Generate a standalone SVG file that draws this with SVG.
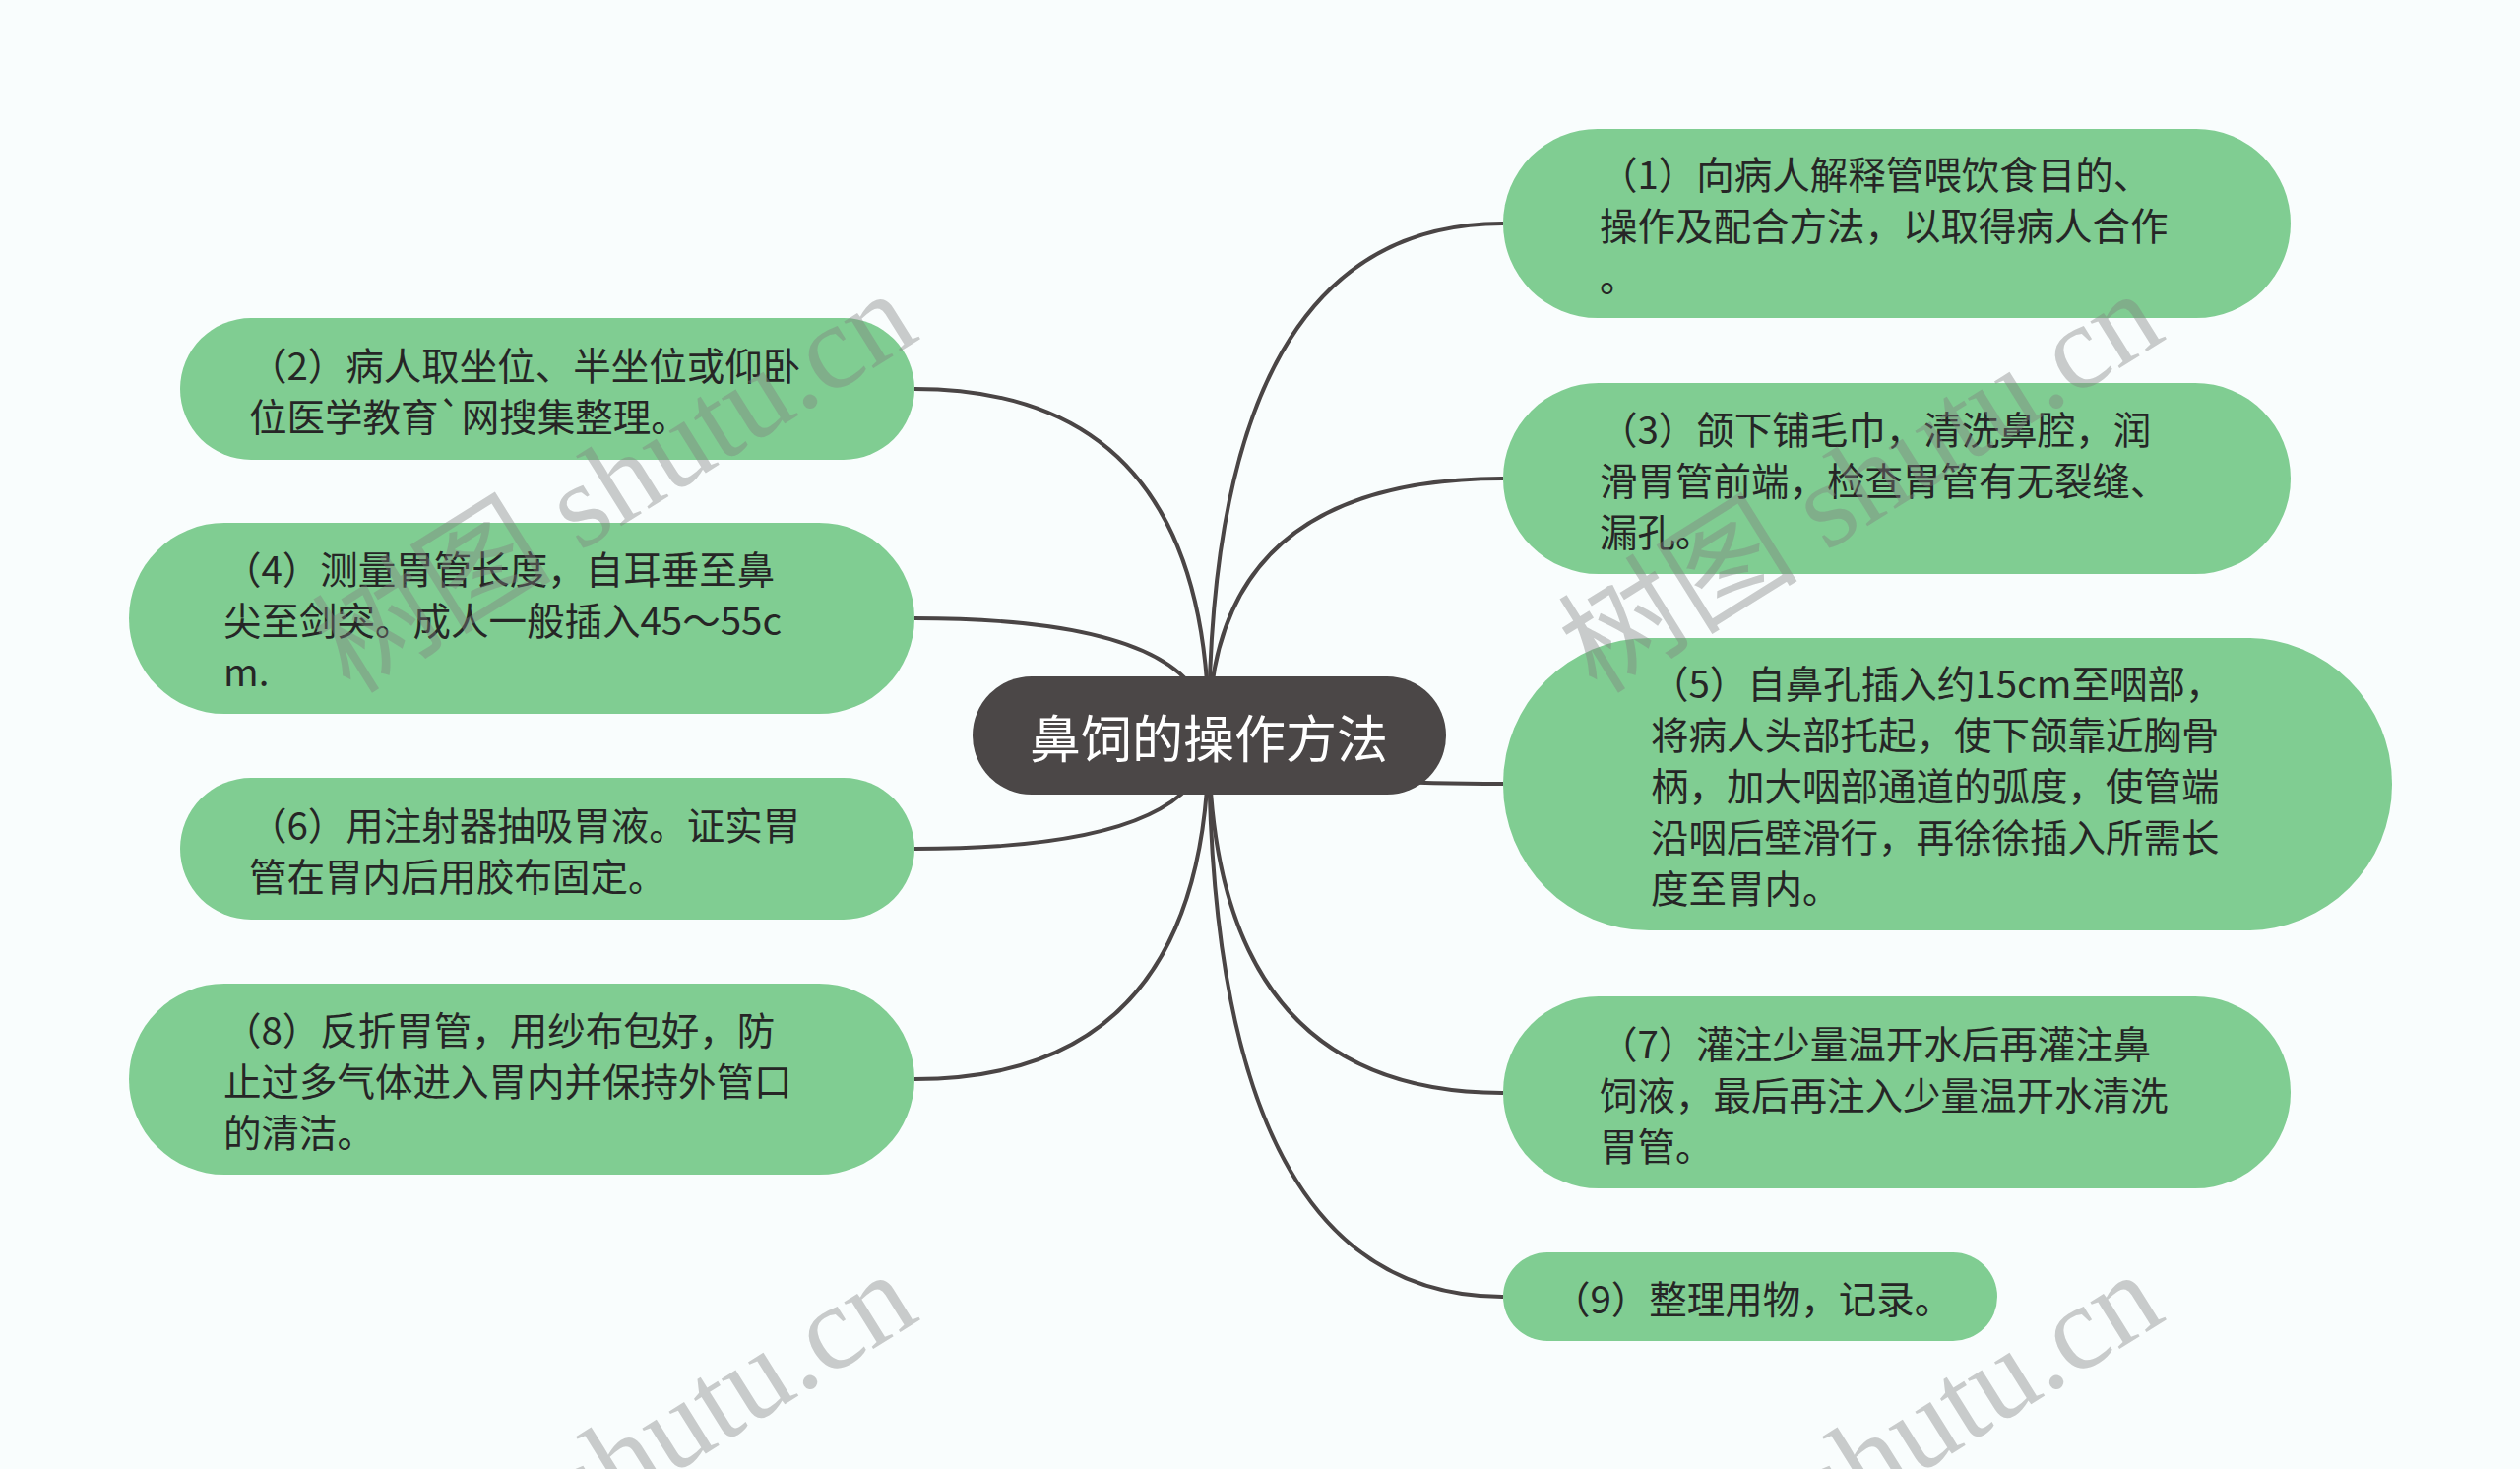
<svg xmlns="http://www.w3.org/2000/svg" width="2560" height="1492" viewBox="0 0 2560 1492">
<style>
.bg{fill:#f9fdfd}
.leaf{fill:#80cd92}
.lt{font-family:"Noto Sans CJK SC","Noto Sans",sans-serif;font-size:38.5px;fill:#262626;dominant-baseline:central}
.root{fill:#4b4747}
.rt{font-family:"Noto Sans CJK SC","Noto Sans",sans-serif;font-size:52px;fill:#ffffff;dominant-baseline:central;text-anchor:middle}
.conn path{fill:none;stroke:#4a4545;stroke-width:4}
.wm{font-family:"Liberation Serif","Noto Sans CJK SC",serif;font-size:122px;fill:#808080;fill-opacity:0.4}
</style>
<rect class="bg" x="0" y="0" width="2560" height="1492"/>
<g id="connectors" class="conn">
<path d="M1228 747 Q1228 227 1527 227"/>
<path d="M1228 747 Q1228 486 1527 486"/>
<path d="M1228 747 Q1228 796 1527 796"/>
<path d="M1228 747 Q1228 1110 1527 1110"/>
<path d="M1228 747 Q1228 1317 1527 1317"/>
<path d="M1228 747 Q1228 395 929 395"/>
<path d="M1228 747 Q1228 628 929 628"/>
<path d="M1228 747 Q1228 862 929 862"/>
<path d="M1228 747 Q1228 1096 929 1096"/>
</g>
<g id="root">
<rect class="root" x="988" y="687" width="481" height="120" rx="60"/>
<text class="rt" x="1228" y="747">鼻饲的操作方法</text>
</g>
<g id="n1">
<rect class="leaf" x="1527" y="131" width="800" height="192" rx="96"/>
<text class="lt" x="1625" y="175">（1）向病人解释管喂饮食目的、</text>
<text class="lt" x="1625" y="227">操作及配合方法，以取得病人合作</text>
<text class="lt" x="1625" y="279">。</text>
</g>
<g id="n3">
<rect class="leaf" x="1527" y="389" width="800" height="194" rx="97"/>
<text class="lt" x="1625" y="434">（3）颌下铺毛巾，清洗鼻腔，润</text>
<text class="lt" x="1625" y="486">滑胃管前端，检查胃管有无裂缝、</text>
<text class="lt" x="1625" y="538">漏孔。</text>
</g>
<g id="n5">
<rect class="leaf" x="1527" y="648" width="903" height="297" rx="148"/>
<text class="lt" x="1677" y="692">（5）自鼻孔插入约15cm至咽部，</text>
<text class="lt" x="1677" y="744">将病人头部托起，使下颌靠近胸骨</text>
<text class="lt" x="1677" y="796">柄，加大咽部通道的弧度，使管端</text>
<text class="lt" x="1677" y="848">沿咽后壁滑行，再徐徐插入所需长</text>
<text class="lt" x="1677" y="900">度至胃内。</text>
</g>
<g id="n7">
<rect class="leaf" x="1527" y="1012" width="800" height="195" rx="97"/>
<text class="lt" x="1625" y="1058">（7）灌注少量温开水后再灌注鼻</text>
<text class="lt" x="1625" y="1110">饲液，最后再注入少量温开水清洗</text>
<text class="lt" x="1625" y="1162">胃管。</text>
</g>
<g id="n9">
<rect class="leaf" x="1527" y="1272" width="502" height="90" rx="45"/>
<text class="lt" x="1577" y="1317">（9）整理用物，记录。</text>
</g>
<g id="n2">
<rect class="leaf" x="183" y="323" width="746" height="144" rx="72"/>
<text class="lt" x="253" y="369">（2）病人取坐位、半坐位或仰卧</text>
<text class="lt" x="253" y="421">位医学教育`网搜集整理。</text>
</g>
<g id="n4">
<rect class="leaf" x="131" y="531" width="798" height="194" rx="97"/>
<text class="lt" x="227" y="576">（4）测量胃管长度，自耳垂至鼻</text>
<text class="lt" x="227" y="628">尖至剑突。成人一般插入45～55c</text>
<text class="lt" x="227" y="680">m.</text>
</g>
<g id="n6">
<rect class="leaf" x="183" y="790" width="746" height="144" rx="72"/>
<text class="lt" x="253" y="836">（6）用注射器抽吸胃液。证实胃</text>
<text class="lt" x="253" y="888">管在胃内后用胶布固定。</text>
</g>
<g id="n8">
<rect class="leaf" x="131" y="999" width="798" height="194" rx="97"/>
<text class="lt" x="227" y="1044">（8）反折胃管，用纱布包好，防</text>
<text class="lt" x="227" y="1096">止过多气体进入胃内并保持外管口</text>
<text class="lt" x="227" y="1148">的清洁。</text>
</g>
<g id="watermarks">
<text class="wm" transform="translate(356 706) rotate(-32)">树图 shutu.cn</text>
<text class="wm" transform="translate(1622 706) rotate(-32)">树图 shutu.cn</text>
<text class="wm" transform="translate(356 1702) rotate(-32)">树图 shutu.cn</text>
<text class="wm" transform="translate(1622 1702) rotate(-32)">树图 shutu.cn</text>
</g>
</svg>
